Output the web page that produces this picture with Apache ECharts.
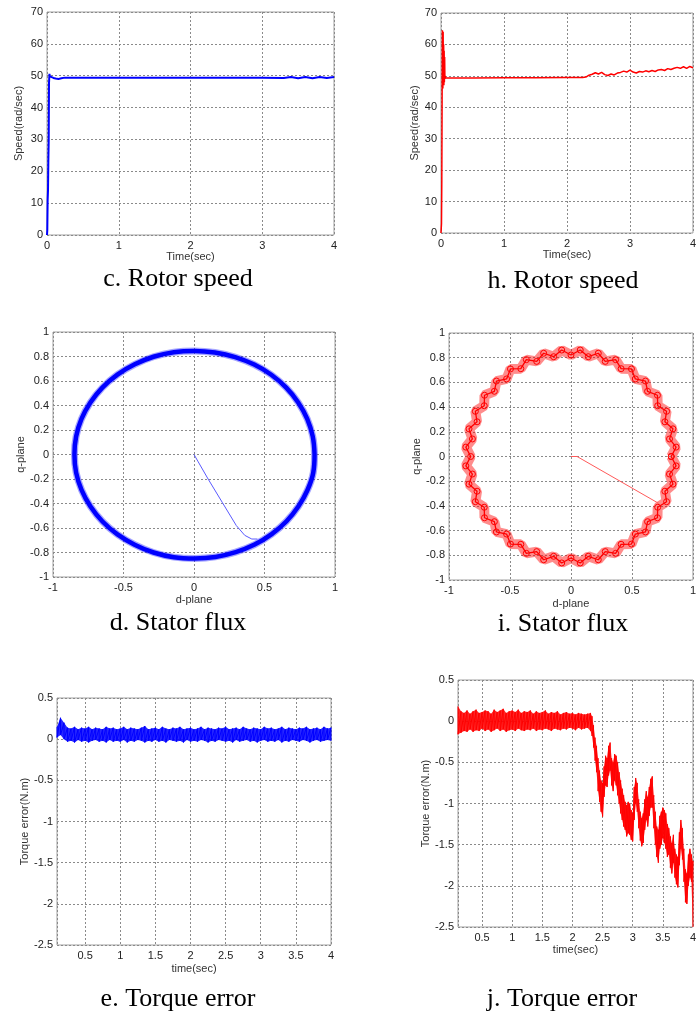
<!DOCTYPE html>
<html>
<head>
<meta charset="utf-8">
<script src="https://cdn.jsdelivr.net/npm/echarts@6/dist/echarts.min.js"></script>
<style>
html, body { margin: 0; padding: 0; background: #fff; }
#chart { width: 699px; height: 1016px; }
</style>
</head>
<body>
<div id="chart"></div>
<script>
// c. rotor speed (blue)
let cTime = [0, 0.004, 0.009, 0.014, 0.019, 0.024, 0.028, 0.034, 0.04, 0.06, 0.09, 0.12, 0.16, 0.2, 0.25, 0.5, 1, 1.5, 2, 2.5, 3, 3.3, 3.4, 3.5, 3.6, 3.7, 3.8, 3.9, 4];
let cSpeed = [0, 1.5, 11, 14, 23.6, 30, 47.7, 50.6, 49.8, 49.6, 49.3, 49.1, 49.0, 49.2, 49.4, 49.4, 49.4, 49.4, 49.4, 49.4, 49.4, 49.3, 49.6, 49.2, 49.6, 49.2, 49.6, 49.3, 49.6];

// h. rotor speed (red)
let hTime = [0, 0.008, 0.013, 0.018, 0.022, 0.026, 0.03, 0.034, 0.038, 0.042, 0.046, 0.05, 0.054, 0.058, 0.062, 0.066, 0.075, 0.1, 0.5, 1, 1.5, 2, 2.25, 2.3,
  2.35, 2.4, 2.45, 2.5, 2.55, 2.6, 2.65, 2.7, 2.75, 2.8, 2.85, 2.9, 2.95, 3.0, 3.05, 3.1, 3.15, 3.2, 3.25, 3.3, 3.35, 3.4, 3.45, 3.5, 3.55, 3.6, 3.65, 3.7, 3.75, 3.8, 3.85, 3.9, 3.95, 4.0];
let hSpeed = [0, 3, 17, 46, 64.5, 62, 46, 64, 48, 60, 47, 58, 48, 56, 49, 50, 49.3, 49.3, 49.3, 49.4, 49.4, 49.5, 49.5, 49.6,
  50.2, 50.5, 51.0, 50.6, 51.1, 50.4, 50.1, 50.6, 50.3, 50.9, 51.1, 51.5, 51.2, 51.8, 51.2, 50.9, 51.4, 51.2, 51.6, 51.3, 51.7, 51.4, 51.9, 52.0, 51.7, 52.3, 52.0, 52.4, 52.7, 52.4, 52.9, 52.4, 53.0, 52.6];

// d. stator flux (blue) : d-plane / q-plane
let dFluxD = [0.855, 0.842, 0.803, 0.739, 0.654, 0.548, 0.427, 0.292, 0.148, 0.005, -0.143, -0.287, -0.420, -0.543, -0.650, -0.735, -0.798, -0.836, -0.848,
  -0.836, -0.797, -0.734, -0.649, -0.543, -0.421, -0.287, -0.143, 0.005, 0.152, 0.296, 0.430, 0.551, 0.656, 0.741, 0.805, 0.846, 0.855];
let dFluxQ = [0.000, 0.148, 0.291, 0.425, 0.546, 0.651, 0.734, 0.795, 0.832, 0.845, 0.835, 0.798, 0.736, 0.652, 0.546, 0.424, 0.290, 0.147, 0.000,
  -0.148, -0.291, -0.425, -0.547, -0.652, -0.736, -0.800, -0.838, -0.848, -0.836, -0.797, -0.735, -0.650, -0.545, -0.423, -0.290, -0.147, 0.000];
let dStartD = [0, 0.03, 0.1, 0.2, 0.3, 0.36, 0.41, 0.45];
let dStartQ = [0, -0.06, -0.2, -0.39, -0.58, -0.66, -0.69, -0.69];

// i. stator flux (red)
let iFluxD = [0.822, 0.862, 0.808, 0.836, 0.770, 0.784, 0.711, 0.709, 0.628, 0.611, 0.528, 0.496, 0.411, 0.366, 0.281, 0.224, 0.142, 0.076, 0.000,
  -0.076, -0.142, -0.224, -0.281, -0.366, -0.411, -0.496, -0.528, -0.611, -0.628, -0.709, -0.711, -0.784, -0.770, -0.836, -0.808, -0.862, -0.822,
  -0.862, -0.808, -0.836, -0.770, -0.784, -0.711, -0.709, -0.628, -0.611, -0.528, -0.496, -0.411, -0.366, -0.281, -0.224, -0.142, -0.076, 0.000,
  0.076, 0.142, 0.224, 0.281, 0.366, 0.411, 0.496, 0.528, 0.611, 0.628, 0.709, 0.711, 0.784, 0.770, 0.836, 0.808, 0.862, 0.822];
let iFluxQ = [0.000, 0.076, 0.142, 0.224, 0.281, 0.366, 0.411, 0.496, 0.528, 0.611, 0.628, 0.709, 0.711, 0.784, 0.770, 0.836, 0.808, 0.862, 0.822,
  0.862, 0.808, 0.836, 0.770, 0.784, 0.711, 0.709, 0.628, 0.611, 0.528, 0.496, 0.411, 0.366, 0.281, 0.224, 0.142, 0.076, 0.000,
  -0.076, -0.142, -0.224, -0.281, -0.366, -0.411, -0.496, -0.528, -0.611, -0.628, -0.709, -0.711, -0.784, -0.770, -0.836, -0.808, -0.862, -0.822,
  -0.862, -0.808, -0.836, -0.770, -0.784, -0.711, -0.709, -0.628, -0.611, -0.528, -0.496, -0.411, -0.366, -0.281, -0.224, -0.142, -0.076, 0.000];
let iStartD = [0, 0.05, 0.72];
let iStartQ = [0, 0, -0.38];

// e. torque error (blue) : noise band, upper / lower edge
let eTime = [0.10, 0.15, 0.20, 0.25, 0.30, 0.35, 0.40, 0.45, 0.50, 0.55,
  0.60, 0.65, 0.70, 0.75, 0.80, 0.85, 0.90, 0.95, 1.00, 1.05,
  1.10, 1.15, 1.20, 1.25, 1.30, 1.35, 1.40, 1.45, 1.50, 1.55,
  1.60, 1.65, 1.70, 1.75, 1.80, 1.85, 1.90, 1.95, 2.00, 2.05,
  2.10, 2.15, 2.20, 2.25, 2.30, 2.35, 2.40, 2.45, 2.50, 2.55,
  2.60, 2.65, 2.70, 2.75, 2.80, 2.85, 2.90, 2.95, 3.00, 3.05,
  3.10, 3.15, 3.20, 3.25, 3.30, 3.35, 3.40, 3.45, 3.50, 3.55,
  3.60, 3.65, 3.70, 3.75, 3.80, 3.85, 3.90, 3.95, 4.00];
let eUpper = [0.15, 0.26, 0.20, 0.14, 0.13, 0.15, 0.12, 0.14, 0.13, 0.15,
  0.12, 0.14, 0.13, 0.12, 0.15, 0.13, 0.14, 0.12, 0.13, 0.15,
  0.12, 0.14, 0.13, 0.12, 0.14, 0.16, 0.12, 0.13, 0.14, 0.12,
  0.15, 0.13, 0.12, 0.14, 0.13, 0.15, 0.12, 0.13, 0.14, 0.12,
  0.13, 0.15, 0.12, 0.14, 0.13, 0.12, 0.14, 0.13, 0.15, 0.12,
  0.13, 0.14, 0.12, 0.15, 0.13, 0.12, 0.14, 0.13, 0.12, 0.15,
  0.13, 0.14, 0.12, 0.13, 0.15, 0.12, 0.14, 0.13, 0.12, 0.14,
  0.13, 0.15, 0.12, 0.13, 0.14, 0.12, 0.15, 0.13, 0.14];
let eLower = [0.02, 0.05, 0.00, -0.03, -0.02, -0.04, -0.01, -0.03, -0.02, -0.04,
  -0.02, -0.01, -0.03, -0.02, -0.04, -0.01, -0.03, -0.02, -0.03, -0.01,
  -0.04, -0.02, -0.03, -0.01, -0.02, -0.04, -0.02, -0.03, -0.01, -0.03,
  -0.02, -0.04, -0.01, -0.02, -0.03, -0.02, -0.04, -0.01, -0.03, -0.02,
  -0.03, -0.01, -0.02, -0.04, -0.02, -0.03, -0.01, -0.02, -0.03, -0.02,
  -0.04, -0.01, -0.03, -0.02, -0.01, -0.03, -0.02, -0.04, -0.02, -0.01,
  -0.03, -0.02, -0.03, -0.01, -0.04, -0.02, -0.03, -0.01, -0.02, -0.03,
  -0.01, -0.02, -0.04, -0.02, -0.01, -0.03, -0.02, -0.01, -0.02];

// j. torque error (red)
let jTime = [0.10, 0.15, 0.20, 0.25, 0.30, 0.35, 0.40, 0.45, 0.50, 0.55,
  0.60, 0.65, 0.70, 0.75, 0.80, 0.85, 0.90, 0.95, 1.00, 1.05,
  1.10, 1.15, 1.20, 1.25, 1.30, 1.35, 1.40, 1.45, 1.50, 1.55,
  1.60, 1.65, 1.70, 1.75, 1.80, 1.85, 1.90, 1.95, 2.00, 2.05,
  2.10, 2.15, 2.20, 2.25, 2.30,
  2.325, 2.35, 2.375, 2.4, 2.425, 2.45, 2.475, 2.5,
  2.525, 2.55, 2.575, 2.6, 2.625, 2.65, 2.675, 2.7, 2.725, 2.75,
  2.775, 2.8, 2.825, 2.85, 2.875, 2.9, 2.925, 2.95, 2.975, 3.0,
  3.025, 3.05, 3.075, 3.1, 3.125, 3.15, 3.175, 3.2, 3.225, 3.25,
  3.275, 3.3, 3.325, 3.35, 3.375, 3.4, 3.425, 3.45, 3.475, 3.5,
  3.525, 3.55, 3.575, 3.6, 3.625, 3.65, 3.675, 3.7, 3.725, 3.75,
  3.775, 3.8, 3.825, 3.85, 3.875, 3.9, 3.925, 3.95, 3.975, 4.0];
let jUpper = [0.18, 0.12, 0.10, 0.13, 0.09, 0.12, 0.14, 0.10, 0.11, 0.13,
  0.12, 0.09, 0.14, 0.11, 0.13, 0.15, 0.10, 0.12, 0.13, 0.11,
  0.14, 0.10, 0.12, 0.11, 0.13, 0.09, 0.12, 0.10, 0.11, 0.13,
  0.09, 0.11, 0.10, 0.12, 0.08, 0.10, 0.11, 0.09, 0.10, 0.08,
  0.10, 0.09, 0.08, 0.09, 0.10,
  0.06, -0.05, -0.20, -0.30, -0.45, -0.60, -0.72, -0.75,
  -0.55, -0.42, -0.45, -0.30, -0.26, -0.45, -0.50, -0.40, -0.42, -0.50,
  -0.62, -0.72, -0.82, -0.90, -0.98, -1.02, -0.98, -1.00, -1.08, -1.12,
  -0.80, -0.69, -0.75, -0.95, -1.10, -1.18, -1.12, -0.95, -0.85, -0.92,
  -0.80, -0.70, -0.67, -0.90, -1.10, -1.28, -1.32, -1.15, -1.10, -1.05,
  -1.08, -1.12, -1.25, -1.30, -1.40, -1.48, -1.38, -1.55, -1.62, -1.65,
  -1.35, -1.20, -1.30, -1.55, -1.80, -1.85, -1.62, -1.55, -1.62, -1.70];
let jLower = [-0.16, -0.14, -0.12, -0.13, -0.10, -0.13, -0.11, -0.12, -0.09, -0.12,
  -0.10, -0.13, -0.11, -0.09, -0.12, -0.10, -0.13, -0.11, -0.10, -0.12,
  -0.09, -0.11, -0.12, -0.10, -0.11, -0.09, -0.12, -0.10, -0.11, -0.09,
  -0.10, -0.12, -0.09, -0.10, -0.11, -0.09, -0.10, -0.08, -0.09, -0.11,
  -0.08, -0.10, -0.09, -0.08, -0.12,
  -0.18, -0.32, -0.48, -0.62, -0.85, -0.98, -1.10, -1.16,
  -0.92, -0.78, -0.80, -0.66, -0.60, -0.78, -0.85, -0.72, -0.78, -0.90,
  -1.00, -1.12, -1.20, -1.28, -1.32, -1.40, -1.36, -1.38, -1.44, -1.46,
  -1.20, -1.00, -1.10, -1.30, -1.45, -1.52, -1.48, -1.32, -1.20, -1.28,
  -1.15, -1.05, -1.05, -1.30, -1.50, -1.65, -1.72, -1.55, -1.50, -1.42,
  -1.48, -1.55, -1.65, -1.62, -1.78, -1.85, -1.72, -1.90, -1.98, -2.02,
  -1.75, -1.55, -1.68, -1.95, -2.20, -2.22, -2.00, -1.90, -1.95, -2.50];

let captions = ['c. Rotor speed', 'h. Rotor speed', 'd. Stator flux', 'i. Stator flux', 'e. Torque error', 'j. Torque error'];

const FONT = '"Liberation Sans", Arial, Helvetica, sans-serif';
const BLUE = '#0000ff';
const RED = '#ff0000';

let chart = echarts.init(document.getElementById('chart'), null, { renderer: 'canvas' });

function pairs(xs, ys) {
  return xs.map((x, i) => [x, ys[i]]);
}

//坐标轴
function axis(idx, name, min, max, interval, nameGap, isY, extra) {
  let a = {
    type: 'value',
    gridIndex: idx,
    name: name,
    nameLocation: 'middle',
    nameGap: nameGap,
    nameTextStyle: { fontFamily: FONT, fontSize: 11, color: '#333' },
    min: min,
    max: max,
    axisLine: { show: false },
    axisTick: { show: false },
    axisLabel: { fontFamily: FONT, fontSize: 11, color: '#222', margin: isY ? 4 : 5 },
    splitLine: { show: true, lineStyle: { color: '#8a8a8a', type: [2, 2], width: 1 } }
  };
  if (interval) a.interval = interval;
  if (isY) a.nameRotate = 90;
  return Object.assign(a, extra || {});
}

//噪声带: 多边形填充 + 上下锯齿线
function band(idx, time, lower, upper, color) {
  let fill = {
    type: 'custom', coordinateSystem: 'cartesian2d', xAxisIndex: idx, yAxisIndex: idx,
    data: [[time[0], lower[0]]],
    clip: true,
    renderItem: function (params, api) {
      let pts = [];
      time.forEach((t, i) => pts.push(api.coord([t, upper[i]])));
      for (let i = time.length - 1; i >= 0; i--) pts.push(api.coord([time[i], lower[i]]));
      return { type: 'polygon', shape: { points: pts }, style: { fill: color, opacity: 0.85 } };
    }
  };
  let zig = {
    type: 'line', xAxisIndex: idx, yAxisIndex: idx,
    data: time.flatMap((t, i) => [[t, upper[i]], [t, lower[i]]]),
    showSymbol: false,
    lineStyle: { color: color, width: 1 }
  };
  return [fill, zig];
}

let grids = [
  { left: 47, top: 12, width: 287, height: 223 },
  { left: 441, top: 13, width: 264, height: 220 },
  { left: 53, top: 332, width: 282, height: 245 },
  { left: 449, top: 333, width: 252, height: 247 },
  { left: 57, top: 698, width: 274, height: 247 },
  { left: 458, top: 680, width: 241, height: 247 }
].map(g => Object.assign(g, { show: true, borderColor: '#a0a0a0', borderWidth: 1, containLabel: false }));

let torqueX = { minInterval: 0.5, maxInterval: 0.5, axisLabel: { fontFamily: FONT, fontSize: 11, color: '#222', margin: 5, showMinLabel: false } };

let xAxes = [
  axis(0, 'Time(sec)', 0, 4, 1, 15, false),
  axis(1, 'Time(sec)', 0, 4, 1, 15, false),
  axis(2, 'd-plane', -1, 1, 0.5, 17, false),
  axis(3, 'd-plane', -1, 1, 0.5, 18, false),
  axis(4, 'time(sec)', 0.1, 4, null, 18, false, torqueX),
  axis(5, 'time(sec)', 0.1, 4, null, 17, false, torqueX)
];
let yAxes = [
  axis(0, 'Speed(rad/sec)', 0, 70, 10, 23, true),
  axis(1, 'Speed(rad/sec)', 0, 70, 10, 19, true),
  axis(2, 'q-plane', -1, 1, 0.2, 27, true),
  axis(3, 'q-plane', -1, 1, 0.2, 21, true),
  axis(4, 'Torque error(N.m)', -2.5, 0.5, 0.5, 27, true),
  axis(5, 'Torque error(N.m)', -2.5, 0.5, 0.5, 24, true)
];

let series = [
  { type: 'line', xAxisIndex: 0, yAxisIndex: 0, data: pairs(cTime, cSpeed), showSymbol: false,
    lineStyle: { color: BLUE, width: 2 } },
  { type: 'line', xAxisIndex: 1, yAxisIndex: 1, data: pairs(hTime, hSpeed), showSymbol: false,
    lineStyle: { color: RED, width: 1.5 } },
  { type: 'line', xAxisIndex: 2, yAxisIndex: 2, data: pairs(dFluxD, dFluxQ), showSymbol: false, smooth: 0.4,
    lineStyle: { color: BLUE, width: 7, opacity: 0.35 } },
  { type: 'line', xAxisIndex: 2, yAxisIndex: 2, data: pairs(dFluxD, dFluxQ), showSymbol: false, smooth: 0.4,
    lineStyle: { color: BLUE, width: 4.5 } },
  { type: 'line', xAxisIndex: 2, yAxisIndex: 2, data: pairs(dStartD, dStartQ), showSymbol: false,
    lineStyle: { color: '#5a5aff', width: 1 } },
  { type: 'line', xAxisIndex: 3, yAxisIndex: 3, data: pairs(iFluxD, iFluxQ), showSymbol: false,
    lineStyle: { color: RED, width: 10, opacity: 0.45 } },
  { type: 'line', xAxisIndex: 3, yAxisIndex: 3, data: pairs(iFluxD, iFluxQ),
    showSymbol: true, symbol: 'circle', symbolSize: 6,
    itemStyle: { color: 'rgba(255,0,0,0)', borderColor: RED, borderWidth: 1 },
    lineStyle: { color: RED, width: 1.3 } },
  { type: 'line', xAxisIndex: 3, yAxisIndex: 3, data: pairs(iStartD, iStartQ), showSymbol: false,
    lineStyle: { color: '#ff5a5a', width: 1 } }
].concat(band(4, eTime, eLower, eUpper, BLUE), band(5, jTime, jLower, jUpper, RED));

let capPos = [[178, 279], [563, 281], [178, 623], [563, 624], [178, 999], [562, 999]];

let option = {
  animation: false,
  backgroundColor: '#ffffff',
  grid: grids,
  xAxis: xAxes,
  yAxis: yAxes,
  series: series,
  graphic: captions.map((t, i) => ({
    type: 'text',
    x: capPos[i][0],
    y: capPos[i][1],
    style: {
      text: t,
      fontFamily: '"Liberation Serif", "Times New Roman", serif',
      fontSize: 26,
      fill: '#000',
      align: 'center',
      verticalAlign: 'middle'
    }
  }))
};

chart.setOption(option);
</script>
</body>
</html>
